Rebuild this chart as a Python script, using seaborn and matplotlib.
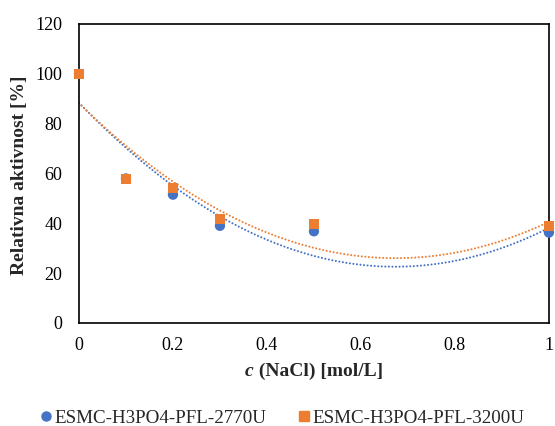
import numpy as np
import pandas as pd
import matplotlib
matplotlib.use("Agg")
import matplotlib.pyplot as plt
import seaborn as sns
from matplotlib.lines import Line2D

x_vals = [0, 0.1, 0.2, 0.3, 0.5, 1.0]
blue_vals = [100, 58, 51.5, 39, 36.8, 36.3]
orange_vals = [100, 57.8, 54.1, 41.6, 39.6, 38.8]
series_names = ["ESMC-H3PO4-PFL-2770U", "ESMC-H3PO4-PFL-3200U"]
x_ticks = [0, 0.2, 0.4, 0.6, 0.8, 1]
x_tick_labels = ["0", "0.2", "0.4", "0.6", "0.8", "1"]
y_ticks = [0, 20, 40, 60, 80, 100, 120]

sns.set_style("white")
plt.rcParams['font.family'] = ['Liberation Serif', 'DejaVu Serif']

colors = ["#4472C4", "#ED7D31"]
markers = ["o", "s"]

df = pd.DataFrame({
    "x": x_vals * 2,
    "y": blue_vals + orange_vals,
    "series": [series_names[0]] * len(x_vals) + [series_names[1]] * len(x_vals),
})

fig = plt.figure(figsize=(5.55, 4.26), dpi=100)
ax = fig.add_axes([0.1423, 0.2418, 0.8467, 0.7019])

sns.scatterplot(data=df, x="x", y="y", hue="series", style="series",
                palette=colors, markers=markers, s=55, linewidth=0,
                ax=ax, legend=False, zorder=3, clip_on=False)

xs = np.linspace(0, 1, 300)
for vals, c in zip([blue_vals, orange_vals], colors):
    coef = np.polyfit(x_vals, vals, 2)
    ax.plot(xs, np.polyval(coef, xs), color=c, lw=1.5,
            linestyle=(0, (0.01, 1.7)), dash_capstyle='round', zorder=2)

ax.set_xlim(0, 1)
ax.set_ylim(0, 120)
ax.set_xticks(x_ticks)
ax.set_xticklabels(x_tick_labels)
ax.set_yticks(y_ticks)
ax.tick_params(direction='in', length=5, width=1, labelsize=13, colors='black')
ax.tick_params(axis='y', pad=12)
ax.tick_params(axis='x', pad=10)
for sp in ax.spines.values():
    sp.set_visible(True)
    sp.set_color('black')
    sp.set_linewidth(1.2)

ax.set_xlabel("")
ax.set_ylabel("")
fig.text(20 / 555, 1 - 175 / 426, "Relativna aktivnost [%]", rotation=90,
         ha='center', va='center', fontsize=14, fontweight='bold')

# x label: italic "c" followed by upright bold text, centred on the axes
ylab = 1 - 376 / 426
t1 = fig.text(0, ylab, "c", fontsize=14, fontweight='bold', style='italic',
              ha='left', va='baseline')
t2 = fig.text(0, ylab, " (NaCl) [mol/L]", fontsize=14, fontweight='bold',
              ha='left', va='baseline')
r = fig.canvas.get_renderer()
w1 = t1.get_window_extent(r).width / fig.bbox.width
w2 = t2.get_window_extent(r).width / fig.bbox.width
xc = 0.1423 + 0.8467 / 2
x0 = xc - (w1 + w2) / 2
t1.set_x(x0)
t2.set_x(x0 + w1)

handles = [Line2D([], [], marker=m, color=c, linestyle='none', markersize=6.5)
           for m, c in zip(markers, colors)]
fig.legend(handles, series_names, loc='center', bbox_to_anchor=(0.507, 1 - 418 / 426),
           ncol=2, frameon=False, fontsize=13.7, handletextpad=0.05,
           columnspacing=1.6, handlelength=0.8, borderpad=0)

fig.savefig("out.png", dpi=100)
